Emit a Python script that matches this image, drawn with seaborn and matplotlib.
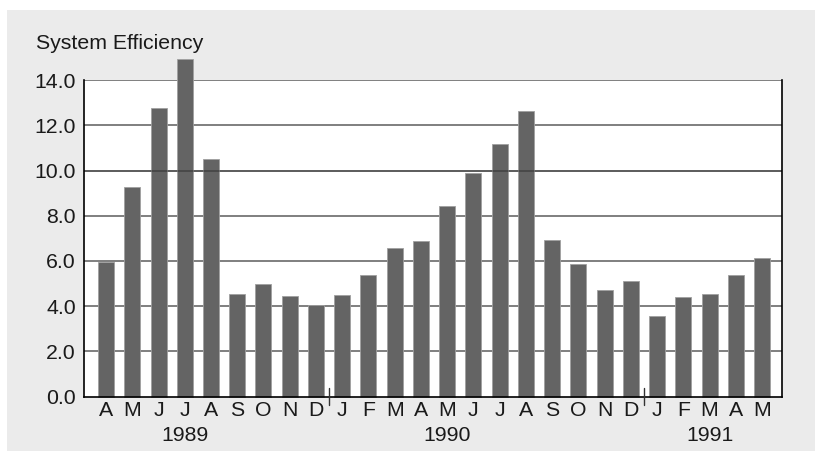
import pandas as pd
import matplotlib
matplotlib.use("Agg")
import matplotlib.pyplot as plt
import matplotlib.transforms as mtransforms
from matplotlib.patches import Rectangle
import seaborn as sns

# Monthly system efficiency, April 1989 - May 1991
periods = pd.period_range("1989-04", "1991-05", freq="M").astype(str).tolist()
month_labels = ["A", "M", "J", "J", "A", "S", "O", "N", "D",
                "J", "F", "M", "A", "M", "J", "J", "A", "S", "O", "N", "D",
                "J", "F", "M", "A", "M"]
efficiency = [5.96, 9.27, 12.78, 14.95, 10.50, 4.52, 4.98, 4.45, 4.05,
              4.49, 5.37, 6.59, 6.87, 8.43, 9.87, 11.19, 12.65, 6.91, 5.87, 4.70, 5.11,
              3.55, 4.39, 4.55, 5.39, 6.14]
year_labels = ["1989", "1990", "1991"]
year_anchor = ["1989-07", "1990-05", "1991-03"]
y_ticks = [0, 2, 4, 6, 8, 10, 12, 14]

df = pd.DataFrame({"period": periods, "efficiency": efficiency})

sns.set_style("white")
plt.rcParams["font.family"] = ["Liberation Sans", "DejaVu Sans"]

bar_color = "#646464"
grid_color = "#5c5c5c"
text_color = "#1a1a1a"
fs = 15.3

fig = plt.figure(figsize=(8.15, 4.53), dpi=100, facecolor="white")
# gray panel behind the chart
fig.patches.append(Rectangle((7 / 815, 1 - 451 / 453), 808 / 815, 441 / 453,
                             transform=fig.transFigure, facecolor="#ebebeb",
                             edgecolor="none", zorder=-10))
ax = fig.add_axes([84 / 815, 1 - 396.5 / 453, 698 / 815, 316.4 / 453])
ax.set_facecolor("white")

for v in y_ticks[1:]:
    ax.axhline(v, color=grid_color, linewidth=1.1, zorder=1)

sns.barplot(data=df, x="period", y="efficiency", color=bar_color, saturation=1,
            width=0.61, edgecolor="#a0a0a0", linewidth=0.6, ax=ax, zorder=2)
for bar in ax.patches:
    bar.set_clip_on(False)
# the 10.0 line shows through the bars
ax.axhline(10, color="#000000", linewidth=1.1, alpha=0.35, zorder=3)

ax.set_xlim(-0.84, 25.76)
ax.set_ylim(0, 14)
ax.set_yticks(y_ticks)
ax.set_yticklabels([f"{v:.1f}" for v in y_ticks])
ax.set_xticks(range(len(periods)))
ax.set_xticklabels(month_labels)
ax.tick_params(axis="both", length=0, labelsize=fs, labelcolor=text_color)
ax.tick_params(axis="y", pad=6)
ax.tick_params(axis="x", pad=3)
ax.set_xlabel("")
ax.set_ylabel("")

for side in ["left", "bottom", "right"]:
    ax.spines[side].set_visible(True)
    ax.spines[side].set_color("black")
    ax.spines[side].set_linewidth(1.2)
ax.spines["top"].set_visible(False)

# year separators between December and January
for i, p in enumerate(periods):
    if p.endswith("-01"):
        ax.plot([i - 0.5, i - 0.5], [0.38, -0.38], color="#333333",
                linewidth=1, clip_on=False, zorder=4)

trans = mtransforms.blended_transform_factory(ax.transData, ax.transAxes)
for label, anchor in zip(year_labels, year_anchor):
    ax.text(periods.index(anchor), -0.122, label, transform=trans,
            ha="center", va="center", fontsize=fs, color=text_color)

fig.text(36 / 815, 1 - 49 / 453, "System Efficiency", ha="left", va="baseline",
         fontsize=fs, color=text_color)

fig.savefig("out.png", dpi=100, facecolor="white")
